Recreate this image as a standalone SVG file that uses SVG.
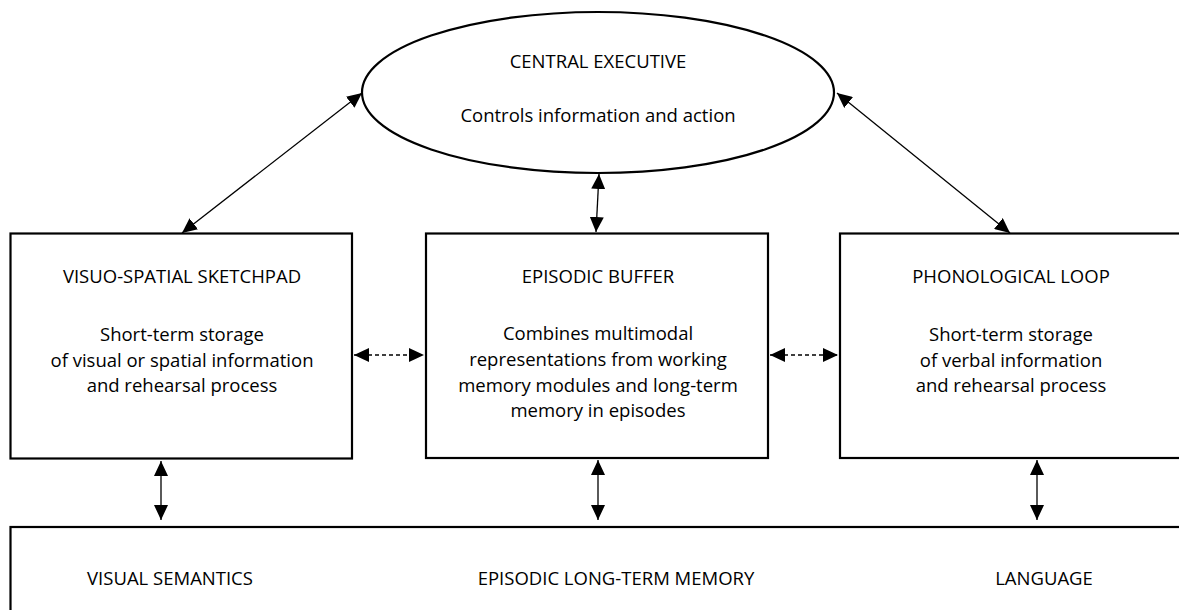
<svg xmlns="http://www.w3.org/2000/svg" width="1179" height="610" viewBox="0 0 1179 610">
<style>
.box{fill:#fff;stroke:#000;stroke-width:2.2}
.t{font-family:"Open Sans","Noto Sans",sans-serif;font-size:18.5px;fill:#000;text-anchor:middle}
.c{stroke:#000;stroke-width:1.3;fill:none;marker-start:url(#a);marker-end:url(#a)}
.d{stroke-dasharray:4 3}
</style>
<defs>
<marker id="a" viewBox="0 0 15 14" refX="15" refY="7" markerWidth="15" markerHeight="14" markerUnits="userSpaceOnUse" orient="auto-start-reverse">
<path d="M0,0 L15,7 L0,14 Z" fill="#000"/>
</marker>
</defs>
<rect width="1179" height="610" fill="#fff"/>
<g id="central-executive">
<ellipse class="box" cx="598" cy="92.5" rx="236" ry="80.5"/>
<text class="t" x="598" y="68">CENTRAL EXECUTIVE</text>
<text class="t" x="598" y="122">Controls information and action</text>
</g>
<g id="visuo-spatial-sketchpad">
<rect class="box" x="10.5" y="233.5" width="341.5" height="225"/>
<text class="t" x="182" y="283">VISUO-SPATIAL SKETCHPAD</text>
<text class="t" x="182" y="341">Short-term storage</text>
<text class="t" x="182" y="367">of visual or spatial information</text>
<text class="t" x="182" y="392">and rehearsal process</text>
</g>
<g id="episodic-buffer">
<rect class="box" x="426" y="233.5" width="342" height="224.5"/>
<text class="t" x="598" y="283">EPISODIC BUFFER</text>
<text class="t" x="598" y="340">Combines multimodal</text>
<text class="t" x="598" y="366">representations from working</text>
<text class="t" x="598" y="392">memory modules and long-term</text>
<text class="t" x="598" y="417">memory in episodes</text>
</g>
<g id="phonological-loop">
<rect class="box" x="840" y="233.5" width="345" height="224.5"/>
<text class="t" x="1011" y="283">PHONOLOGICAL LOOP</text>
<text class="t" x="1011" y="341">Short-term storage</text>
<text class="t" x="1011" y="367">of verbal information</text>
<text class="t" x="1011" y="392">and rehearsal process</text>
</g>
<g id="long-term-memory">
<rect class="box" x="10.5" y="527" width="1180" height="100"/>
<text class="t" x="170" y="585">VISUAL SEMANTICS</text>
<text class="t" x="616" y="585">EPISODIC LONG-TERM MEMORY</text>
<text class="t" x="1044" y="585">LANGUAGE</text>
</g>
<g id="connectors">
<line class="c" x1="182" y1="233" x2="362" y2="93"/>
<line class="c" x1="1010" y1="233" x2="837" y2="93"/>
<line class="c" x1="599" y1="174" x2="596" y2="232"/>
<line class="c d" x1="354" y1="355" x2="424" y2="355"/>
<line class="c d" x1="770" y1="355" x2="838" y2="355"/>
<line class="c" x1="161" y1="461" x2="161" y2="520"/>
<line class="c" x1="598" y1="460" x2="598" y2="520"/>
<line class="c" x1="1037" y1="460" x2="1037" y2="520"/>
</g>
</svg>
